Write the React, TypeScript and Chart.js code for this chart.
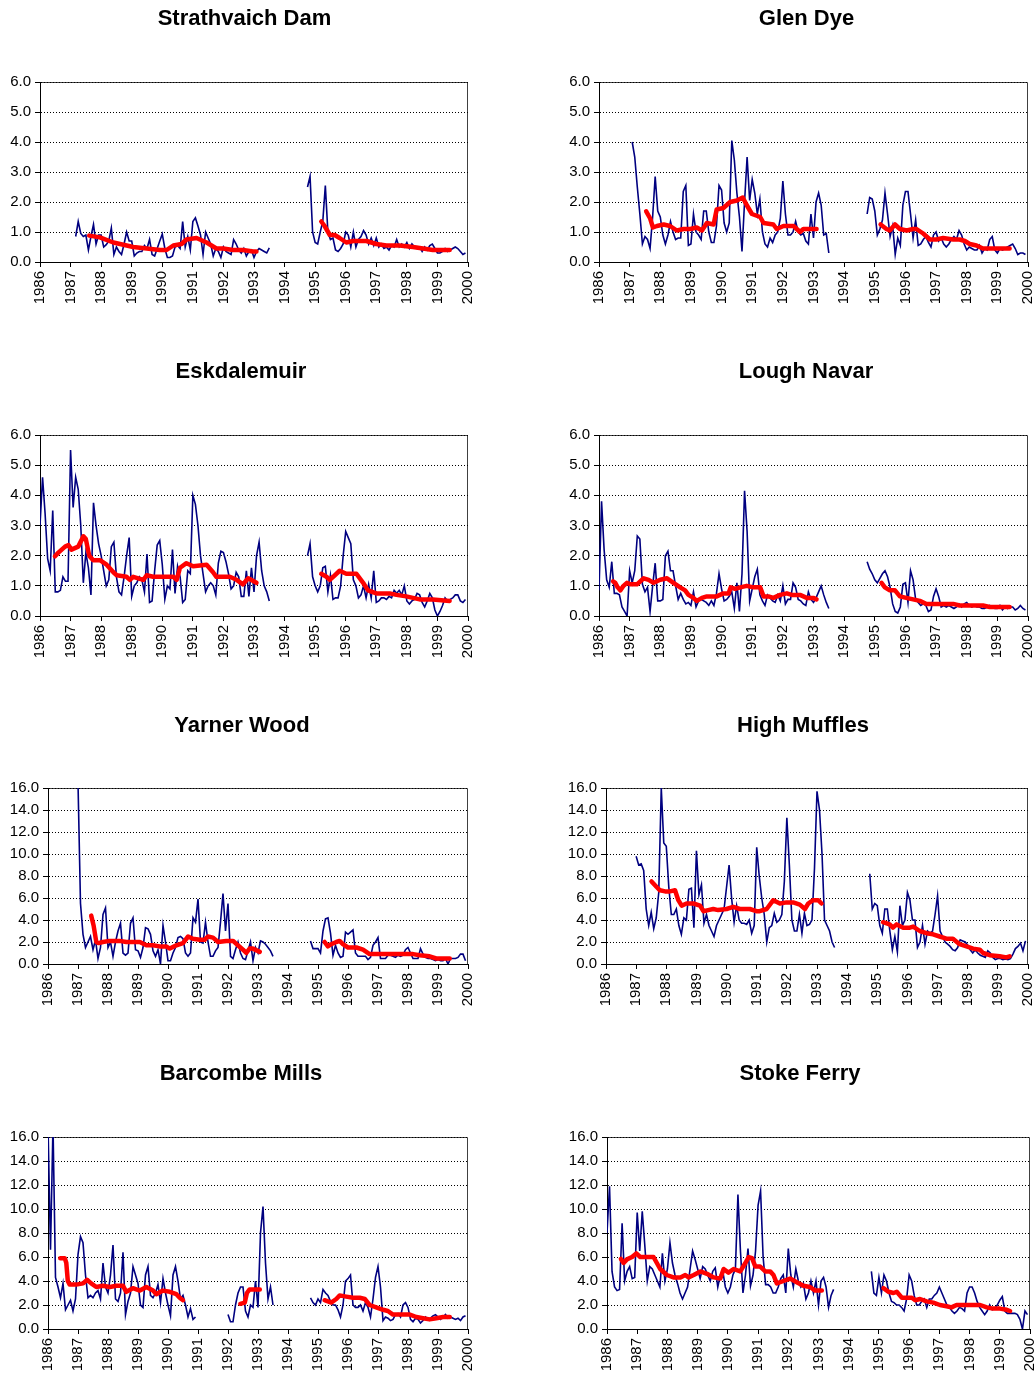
import React, { useEffect, useRef } from "react";
import { Chart, registerables } from "chart.js";

Chart.register(...registerables);

const FONT = "'Liberation Sans', Arial, Helvetica, sans-serif";
const N = null;
const FIRST_YEAR = 1986;
const LAST_YEAR = 2000;

const titles = ["Strathvaich Dam", "Glen Dye", "Eskdalemuir", "Lough Navar", "Yarner Wood", "High Muffles", "Barcombe Mills", "Stoke Ferry"];
const yMaxes = [6, 6, 6, 6, 16, 16, 16, 16];
const ySteps = [1, 1, 1, 1, 2, 2, 2, 2];

// Monthly values, Jan 1986 .. Dec 1999 (one row per year)
const strathvaichDam = [
  N,N,N,N,N,N,N,N,N,N,N,N,
  N,N,0.85,1.35,0.95,0.85,0.9,0.4,0.85,1.25,0.6,0.9,
  0.9,0.5,0.58,0.7,1.13,0.25,0.5,0.35,0.25,0.6,1.0,0.7,
  0.7,0.2,0.3,0.35,0.35,0.55,0.45,0.75,0.25,0.2,0.45,0.7,
  0.93,0.45,0.15,0.15,0.2,0.5,0.55,0.45,1.35,0.5,0.85,0.4,
  1.35,1.47,1.2,0.9,0.25,1.0,0.8,0.6,0.2,0.45,0.35,0.15,
  0.5,0.35,0.3,0.25,0.75,0.6,0.4,0.3,0.45,0.2,0.35,0.4,
  0.15,0.35,0.45,0.4,0.35,0.3,0.47,N,N,N,N,N,
  N,N,N,N,N,N,N,N,N,2.5,2.85,1.0,
  0.65,0.6,1.0,1.35,2.55,1.0,0.75,0.8,0.4,0.35,0.45,0.6,
  1.0,0.9,0.5,1.0,0.5,0.75,0.85,1.05,0.9,0.6,0.8,0.55,
  0.8,0.5,0.6,0.45,0.5,0.4,0.55,0.5,0.75,0.5,0.6,0.5,
  0.65,0.45,0.6,0.5,0.45,0.5,0.35,0.5,0.4,0.55,0.6,0.45,
  0.3,0.3,0.35,0.45,0.35,0.4,0.45,0.5,0.45,0.35,0.25,0.3,
];
const strathvaichTrend = [
  [1987.61,0.88],[1987.96,0.82],[1988.40,0.65],[1989.05,0.5],[1989.49,0.45],[1989.92,0.4],[1990.14,0.4],[1990.36,0.55],[1990.63,0.6],[1990.79,0.75],[1991.12,0.8],[1991.45,0.65],[1991.77,0.45],[1991.99,0.45],[1992.32,0.4],[1992.64,0.4],[1992.97,0.35],[1993.08,0.35],
  N,
  [1995.20,1.35],[1995.31,1.2],[1995.48,0.9],[1995.64,0.9],[1995.80,0.8],[1996.02,0.65],[1996.24,0.7],[1996.68,0.7],[1997.0,0.6],[1997.33,0.55],[1997.76,0.55],[1998.2,0.5],[1998.53,0.45],[1998.85,0.4],[1999.4,0.4],
];

const glenDye = [
  N,N,N,N,N,N,N,N,N,N,N,N,
  N,4.0,3.5,2.5,1.6,0.6,0.85,0.75,0.45,1.5,2.85,1.7,
  1.5,0.9,0.6,0.9,1.35,1.0,0.75,0.8,0.8,2.35,2.55,0.55,
  0.6,1.6,1.0,0.9,0.75,1.7,1.7,1.0,0.65,0.65,1.2,2.55,
  2.4,1.3,1.0,1.3,4.05,3.4,2.3,1.5,0.35,2.0,3.5,2.05,
  2.75,2.3,1.6,2.1,1.0,0.6,0.5,0.8,0.65,0.9,1.0,1.45,
  2.7,1.6,0.9,0.9,1.0,1.35,1.0,0.9,0.95,0.7,0.6,1.6,
  0.8,2.0,2.3,1.9,0.9,0.95,0.3,N,N,N,N,N,
  N,N,N,N,N,N,N,N,N,1.6,2.15,2.1,
  1.7,0.9,1.1,1.4,2.3,1.6,0.85,1.2,0.25,0.8,0.55,1.9,
  2.35,2.35,1.6,0.8,1.4,0.55,0.6,0.75,0.85,0.65,0.5,0.9,
  1.0,0.7,0.8,0.6,0.5,0.6,0.75,0.85,0.75,1.05,0.9,0.6,
  0.4,0.5,0.45,0.4,0.4,0.55,0.3,0.45,0.4,0.75,0.85,0.4,
  0.3,0.45,0.4,0.45,0.5,0.55,0.6,0.45,0.25,0.3,0.3,0.25,
];
const glenDyeTrend = [
  [1987.54,1.69],[1987.67,1.45],[1987.76,1.15],[1987.89,1.2],[1988.11,1.25],[1988.32,1.2],[1988.54,1.05],[1988.76,1.1],[1988.98,1.1],[1989.19,1.15],[1989.36,1.05],[1989.52,1.3],[1989.74,1.25],[1989.84,1.75],[1990.06,1.8],[1990.28,2.0],[1990.50,2.05],[1990.69,2.15],[1990.82,1.9],[1990.99,1.6],[1991.26,1.5],[1991.37,1.3],[1991.69,1.25],[1991.80,1.1],[1992.02,1.2],[1992.35,1.2],[1992.56,1.0],[1992.67,1.1],[1993.10,1.1],
  N,
  [1995.19,1.25],[1995.38,1.1],[1995.49,1.05],[1995.66,1.25],[1995.82,1.1],[1996.04,1.05],[1996.25,1.1],[1996.36,1.1],[1996.58,0.95],[1996.80,0.75],[1997.01,0.75],[1997.23,0.8],[1997.56,0.75],[1997.77,0.75],[1997.94,0.7],[1998.10,0.6],[1998.32,0.55],[1998.53,0.45],[1998.86,0.45],[1999.40,0.45],
];

const eskdalemuir = [
  3.0,4.6,3.4,1.9,1.5,3.5,0.8,0.8,0.85,1.3,1.15,1.15,
  5.5,3.6,4.6,4.2,3.0,1.1,2.1,1.6,0.7,3.75,3.0,2.4,
  2.0,1.5,1.0,1.2,2.3,2.45,1.3,0.8,0.7,1.3,2.0,2.6,
  0.65,1.0,1.1,1.3,1.2,0.8,2.05,0.45,0.5,1.5,2.35,2.5,
  1.7,0.55,1.0,0.9,2.2,0.75,1.65,1.3,0.45,0.55,1.5,1.4,
  4.0,3.7,3.0,2.0,1.4,0.8,1.0,1.1,1.0,0.7,1.75,2.15,
  2.1,1.8,1.4,0.9,1.0,1.45,1.3,0.65,0.65,1.5,0.65,1.6,
  0.8,2.0,2.45,1.5,1.0,0.8,0.5,N,N,N,N,N,
  N,N,N,N,N,N,N,N,N,2.0,2.4,1.3,
  1.0,0.8,1.0,1.6,1.65,0.8,1.35,0.55,0.6,0.6,1.0,2.0,
  2.8,2.6,2.4,1.2,1.0,0.6,0.7,1.0,0.6,1.05,0.6,1.5,
  0.45,0.5,0.6,0.6,0.55,0.65,0.6,0.85,0.75,0.85,0.7,1.0,
  0.5,0.4,0.5,0.55,0.75,0.7,0.45,0.3,0.5,0.75,0.6,0.2,
  0.0,0.15,0.35,0.6,0.5,0.55,0.6,0.7,0.7,0.5,0.45,0.55,
];
const eskdalemuirTrend = [
  [1986.49,1.98],[1986.60,2.1],[1986.82,2.3],[1986.93,2.35],[1987.03,2.2],[1987.25,2.3],[1987.42,2.64],[1987.50,2.55],[1987.61,2.0],[1987.74,1.85],[1987.96,1.85],[1988.18,1.7],[1988.40,1.45],[1988.51,1.35],[1988.83,1.3],[1988.94,1.2],[1989.05,1.3],[1989.38,1.2],[1989.49,1.35],[1989.70,1.3],[1989.92,1.3],[1990.36,1.3],[1990.47,1.2],[1990.58,1.6],[1990.79,1.75],[1991.01,1.65],[1991.45,1.7],[1991.66,1.45],[1991.77,1.3],[1992.21,1.3],[1992.43,1.2],[1992.64,1.05],[1992.81,1.25],[1993.08,1.1],
  N,
  [1995.20,1.4],[1995.37,1.3],[1995.48,1.2],[1995.59,1.3],[1995.80,1.5],[1996.02,1.4],[1996.35,1.4],[1996.57,1.1],[1996.73,0.85],[1997.0,0.75],[1997.44,0.75],[1997.66,0.7],[1997.98,0.65],[1998.20,0.6],[1998.42,0.55],[1998.85,0.55],[1999.40,0.5],
];

const loughNavar = [
  0.85,3.8,2.2,1.2,0.95,1.8,0.75,0.75,0.7,0.3,0.15,0.0,
  1.5,1.1,1.5,2.65,2.55,1.05,0.8,0.95,0.15,1.0,1.75,0.5,
  0.5,0.55,2.0,2.15,1.5,1.5,1.0,0.55,0.75,0.55,0.4,0.45,
  0.35,0.8,0.3,0.5,0.55,0.5,0.45,0.35,0.5,0.35,0.75,1.4,
  0.9,0.5,0.55,0.65,0.8,0.25,1.1,0.15,1.4,4.15,2.8,0.5,
  0.9,1.3,1.55,0.7,0.5,0.35,0.7,0.6,0.5,0.45,0.7,0.5,
  1.0,0.4,0.55,0.55,1.1,0.95,0.55,0.5,0.4,0.35,0.8,0.55,
  0.45,0.6,0.8,1.0,0.7,0.45,0.25,N,N,N,N,N,
  N,N,N,N,N,N,N,N,N,1.8,1.55,1.4,
  1.2,1.1,1.25,1.4,1.5,1.3,0.95,0.4,0.15,0.1,0.3,1.05,
  1.1,0.45,1.5,1.2,0.55,0.45,0.35,0.4,0.35,0.15,0.2,0.65,
  0.9,0.65,0.3,0.35,0.3,0.35,0.3,0.25,0.3,0.4,0.3,0.4,
  0.45,0.35,0.3,0.35,0.3,0.3,0.25,0.25,0.3,0.35,0.3,0.25,
  0.25,0.35,0.2,0.3,0.25,0.3,0.3,0.2,0.25,0.35,0.25,0.2,
];
const loughNavarTrend = [
  [1986.46,1.15],[1986.53,1.1],[1986.61,0.95],[1986.70,0.85],[1986.80,1.0],[1986.91,1.1],[1987.04,1.05],[1987.24,1.05],[1987.46,1.25],[1987.62,1.2],[1987.78,1.1],[1988.0,1.2],[1988.22,1.25],[1988.43,1.1],[1988.65,0.95],[1988.81,0.85],[1988.92,0.7],[1989.08,0.6],[1989.19,0.5],[1989.36,0.6],[1989.52,0.65],[1989.84,0.65],[1990.06,0.75],[1990.23,0.75],[1990.30,0.95],[1990.44,0.9],[1990.61,0.95],[1990.82,1.0],[1991.04,0.95],[1991.26,0.95],[1991.37,0.65],[1991.53,0.65],[1991.69,0.6],[1991.91,0.7],[1992.13,0.75],[1992.29,0.7],[1992.56,0.7],[1992.78,0.6],[1992.99,0.6],[1993.10,0.55],
  N,
  [1995.22,1.1],[1995.33,0.95],[1995.49,0.85],[1995.66,0.85],[1995.82,0.65],[1996.03,0.6],[1996.25,0.55],[1996.47,0.5],[1996.69,0.4],[1996.90,0.4],[1997.23,0.4],[1997.56,0.4],[1997.77,0.35],[1998.21,0.35],[1998.53,0.35],[1998.75,0.3],[1999.08,0.3],[1999.40,0.3],
];

const yarnerWood = [
  N,N,N,N,N,N,N,N,N,N,N,N,
  16.5,5.5,2.7,1.5,2.0,2.5,1.3,2.2,0.5,1.5,4.5,5.1,
  1.5,2.0,0.7,2.0,3.0,3.7,1.0,0.8,1.0,3.7,4.2,1.3,
  1.2,0.6,1.5,3.3,3.2,2.7,1.2,0.7,1.3,0.0,3.5,2.0,
  0.3,0.3,1.0,1.5,2.4,2.5,2.3,1.0,0.7,1.0,4.2,3.8,
  5.9,2.0,1.9,3.8,2.0,0.7,0.7,1.2,1.5,3.8,6.4,3.0,
  5.5,0.7,0.5,1.3,2.0,1.0,0.5,0.4,1.2,2.0,0.3,1.5,
  1.0,2.1,2.0,1.8,1.5,1.2,0.7,N,N,N,N,N,
  N,N,N,N,N,N,N,N,N,2.1,1.4,1.4,
  1.4,1.0,3.0,4.1,4.2,2.8,0.8,1.7,1.0,0.6,0.7,2.9,
  2.7,2.9,3.1,1.0,0.7,0.7,0.7,0.7,0.4,0.6,1.7,2.0,
  2.4,0.5,0.5,0.5,0.8,0.8,0.7,0.6,0.8,0.7,0.8,1.3,
  1.5,1.0,0.5,0.5,0.5,1.4,0.9,0.6,0.5,0.5,0.4,0.3,
  0.4,0.3,0.3,0.5,0.0,0.5,0.5,0.5,0.6,0.9,0.9,0.3,
];
const yarnerWoodTrend = [
  [1987.44,4.4],[1987.52,3.5],[1987.61,2.0],[1987.68,1.9],[1987.83,2.0],[1988.06,2.1],[1988.39,2.1],[1988.61,2.0],[1988.83,2.0],[1989.06,2.0],[1989.28,1.7],[1989.50,1.7],[1989.72,1.6],[1989.94,1.6],[1990.06,1.4],[1990.28,1.7],[1990.50,1.9],[1990.67,2.5],[1990.83,2.3],[1991.06,2.2],[1991.22,2.2],[1991.33,2.5],[1991.50,2.4],[1991.67,2.0],[1991.94,2.1],[1992.17,2.1],[1992.33,1.7],[1992.50,1.3],[1992.61,1.0],[1992.72,1.4],[1992.83,1.4],[1993.06,1.1],
  N,
  [1995.22,2.0],[1995.33,1.6],[1995.44,1.8],[1995.61,2.0],[1995.72,2.1],[1995.83,1.8],[1996.0,1.5],[1996.28,1.5],[1996.50,1.3],[1996.72,0.9],[1997.17,0.9],[1997.72,0.9],[1998.17,0.9],[1998.39,0.8],[1998.72,0.7],[1998.94,0.5],[1999.39,0.5],
];

const highMuffles = [
  N,N,N,N,N,N,N,N,N,N,N,N,
  9.8,9.0,9.1,8.5,5.0,3.5,4.7,3.2,4.2,6.5,16.0,11.0,
  10.7,7.0,4.5,4.5,5.0,3.5,2.7,4.2,4.0,6.8,6.9,3.3,
  10.3,6.3,7.2,3.7,4.5,3.5,3.0,2.5,3.5,4.0,4.5,5.0,
  7.0,9.0,6.0,3.8,5.3,4.0,3.7,3.7,3.6,4.0,2.8,3.5,
  10.6,8.0,6.0,4.5,2.0,3.3,3.5,4.6,3.8,4.0,4.5,7.5,
  13.3,9.0,4.0,3.0,3.0,4.5,2.8,4.6,3.5,3.6,4.0,8.7,
  15.7,14.0,10.0,4.0,3.5,3.0,2.0,1.5,N,N,N,N,
  N,N,N,N,N,N,N,N,N,8.2,5.0,5.5,
  5.3,3.5,2.8,5.0,5.0,3.0,1.3,2.5,1.1,5.3,3.5,4.0,
  6.5,5.8,4.0,4.0,1.5,2.0,3.5,1.8,3.0,2.8,3.0,4.5,
  6.2,3.0,2.5,2.0,1.8,1.6,1.3,1.2,1.5,2.2,2.1,2.0,
  1.7,1.3,1.0,1.3,1.0,0.8,0.7,0.6,1.2,1.0,0.6,0.4,
  0.5,0.5,0.4,0.45,0.4,0.5,0.9,1.4,1.6,1.9,1.2,2.1,
];
const highMufflesTrend = [
  [1987.51,7.5],[1987.68,7.0],[1987.79,6.7],[1987.96,6.6],[1988.12,6.6],[1988.29,6.7],[1988.40,5.8],[1988.51,5.3],[1988.67,5.5],[1988.90,5.5],[1989.12,5.3],[1989.23,4.8],[1989.39,4.9],[1989.56,5.0],[1989.72,4.9],[1990.0,5.0],[1990.22,5.2],[1990.44,5.0],[1990.77,5.0],[1990.99,4.8],[1991.10,4.8],[1991.33,5.0],[1991.55,5.8],[1991.77,5.5],[1991.99,5.6],[1992.21,5.6],[1992.43,5.4],[1992.60,5.0],[1992.71,5.5],[1992.87,5.8],[1993.04,5.8],[1993.15,5.5],
  N,
  [1995.19,3.8],[1995.41,3.6],[1995.52,3.3],[1995.64,3.6],[1995.86,3.3],[1996.08,3.3],[1996.19,3.4],[1996.41,3.0],[1996.63,2.8],[1996.85,2.7],[1997.07,2.5],[1997.29,2.3],[1997.51,2.3],[1997.73,1.8],[1997.96,1.6],[1998.18,1.4],[1998.40,1.3],[1998.51,1.0],[1998.73,0.8],[1999.06,0.7],[1999.28,0.6],[1999.39,0.7],
];

const barcombeMills = [
  17,6.6,17,4.3,3.5,2.6,3.8,1.6,2.0,2.4,1.5,2.5,
  6.2,7.7,7.2,4.5,2.6,2.8,2.6,3.0,3.2,2.5,5.5,3.5,
  3.0,4.5,7.0,2.5,2.3,3.0,6.4,1.2,2.3,3.0,5.2,4.5,
  3.8,2.0,1.8,4.5,5.2,2.8,2.6,3.0,3.7,2.2,4.2,3.0,
  2.0,1.1,4.5,5.2,4.0,2.5,2.8,2.0,1.0,1.7,0.8,1.0,
  N,N,N,N,N,N,N,N,N,N,N,N,
  1.2,0.6,0.6,2.0,3.0,3.5,3.5,1.5,1.0,2.0,1.8,4.0,
  1.8,8.0,10.2,5.5,2.5,3.5,2.0,N,N,N,N,N,
  N,N,N,N,N,N,N,N,N,2.6,2.2,2.0,
  2.5,2.2,3.3,3.0,2.8,2.3,2.0,2.0,1.6,1.0,2.0,4.0,
  4.2,4.5,2.0,1.8,1.8,2.0,1.5,2.2,1.8,1.0,2.5,4.3,
  5.2,3.5,0.7,1.0,0.9,0.7,0.8,1.2,1.3,1.0,2.0,2.2,
  1.8,0.8,0.6,0.9,0.8,0.5,0.7,1.0,0.8,0.9,1.1,1.2,
  1.0,0.8,1.0,1.2,0.9,1.0,0.9,0.8,0.9,0.7,1.0,1.1,
];
const barcombeMillsTrend = [
  [1986.41,5.9],[1986.56,5.9],[1986.61,5.5],[1986.66,4.0],[1986.72,3.7],[1986.94,3.7],[1987.17,3.8],[1987.30,4.1],[1987.44,3.8],[1987.61,3.5],[1987.83,3.6],[1988.06,3.5],[1988.28,3.6],[1988.50,3.6],[1988.61,3.1],[1988.83,3.4],[1989.06,3.2],[1989.28,3.5],[1989.50,3.2],[1989.61,2.9],[1989.83,3.2],[1990.06,3.1],[1990.28,2.9],[1990.39,2.6],[1990.50,2.4],
  N,
  [1992.41,2.1],[1992.56,2.2],[1992.63,3.0],[1992.72,3.3],[1993.06,3.3],
  N,
  [1995.22,2.4],[1995.33,2.3],[1995.44,2.2],[1995.61,2.5],[1995.72,2.8],[1995.94,2.7],[1996.17,2.6],[1996.39,2.6],[1996.56,2.5],[1996.72,2.0],[1996.94,1.8],[1997.17,1.6],[1997.33,1.5],[1997.50,1.2],[1997.72,1.2],[1998.06,1.2],[1998.28,1.0],[1998.50,0.9],[1998.72,0.8],[1998.94,0.9],[1999.17,1.0],[1999.39,1.0],
];

const stokeFerry = [
  8.0,11.9,4.8,3.5,3.2,3.3,8.8,4.0,4.8,5.2,4.2,4.3,
  9.7,6.5,9.8,7.0,4.0,5.2,5.0,4.5,4.0,3.5,6.3,4.0,
  5.0,7.2,5.5,4.5,3.8,3.0,2.5,3.0,3.5,5.0,6.5,5.8,
  5.0,4.2,5.2,5.0,4.5,4.0,4.8,5.1,3.5,4.5,4.8,3.5,
  3.0,3.5,4.5,5.0,11.2,6.5,3.0,4.5,6.7,3.6,4.5,6.5,
  10.3,11.5,6.0,3.7,3.7,3.5,3.0,3.0,3.5,4.2,4.5,3.0,
  6.7,4.5,3.5,5.0,4.0,3.5,3.8,2.5,3.0,4.0,3.0,4.0,
  2.0,4.0,4.3,3.5,1.8,2.8,3.3,N,N,N,N,N,
  N,N,N,N,N,N,N,N,N,4.8,3.0,2.8,
  4.3,3.0,4.5,4.0,3.0,2.3,2.2,2.0,2.0,1.8,1.5,2.5,
  4.5,4.0,2.8,2.0,2.0,2.3,2.5,1.8,2.5,2.5,2.8,3.0,
  3.5,3.0,2.5,2.0,1.8,1.5,1.3,1.5,1.8,1.7,1.5,3.0,
  3.5,3.5,3.0,2.3,1.8,1.5,1.2,1.5,2.0,1.6,1.7,2.0,
  2.4,2.7,1.5,1.3,1.3,1.3,1.3,1.2,0.8,0.0,1.5,1.2,
];
const stokeFerryTrend = [
  [1986.46,5.84],[1986.55,5.5],[1986.66,5.8],[1986.83,6.0],[1986.97,6.3],[1987.10,6.0],[1987.32,6.0],[1987.54,6.0],[1987.65,5.5],[1987.76,5.0],[1987.98,4.5],[1988.20,4.3],[1988.43,4.3],[1988.59,4.5],[1988.70,4.3],[1988.87,4.5],[1989.09,4.8],[1989.31,4.6],[1989.53,4.3],[1989.75,4.2],[1989.86,5.0],[1990.02,4.7],[1990.19,5.0],[1990.41,4.8],[1990.58,5.5],[1990.69,6.0],[1990.80,5.9],[1990.91,5.2],[1991.07,5.2],[1991.24,4.8],[1991.40,4.8],[1991.51,4.5],[1991.62,3.8],[1991.84,4.0],[1992.06,4.2],[1992.28,3.9],[1992.50,3.6],[1992.72,3.5],[1992.89,3.2],[1993.11,3.2],
  N,
  [1995.15,3.4],[1995.32,3.1],[1995.48,3.0],[1995.59,3.1],[1995.76,2.6],[1995.92,2.6],[1996.09,2.6],[1996.20,2.4],[1996.36,2.5],[1996.58,2.3],[1996.80,2.2],[1997.02,2.0],[1997.24,1.9],[1997.40,1.8],[1997.57,2.0],[1997.80,2.0],[1998.02,2.0],[1998.35,2.0],[1998.57,1.8],[1998.77,1.7],[1999.01,1.7],[1999.23,1.6],[1999.34,1.5],
];

const monthlySeries = [strathvaichDam, glenDye, eskdalemuir, loughNavar, yarnerWood, highMuffles, barcombeMills, stokeFerry];
const trendSeries = [strathvaichTrend, glenDyeTrend, eskdalemuirTrend, loughNavarTrend, yarnerWoodTrend, highMufflesTrend, barcombeMillsTrend, stokeFerryTrend];

// Layout (page pixels): plot-area box, title centre, canvas left
const LAYOUT = [
  { L: 40, R: 468, T: 82, B: 262, cx: 244.5, cy: 18.5, left: 0 },
  { L: 599, R: 1028, T: 82, B: 262, cx: 806.5, cy: 18.5, left: 560 },
  { L: 40, R: 468, T: 435, B: 616, cx: 241, cy: 371.5, left: 0 },
  { L: 599, R: 1028, T: 435, B: 616, cx: 806, cy: 371.5, left: 560 },
  { L: 48, R: 468, T: 788, B: 964, cx: 242, cy: 725.5, left: 0 },
  { L: 606, R: 1028, T: 788, B: 964, cx: 803, cy: 725.5, left: 560 },
  { L: 48, R: 468, T: 1137, B: 1329, cx: 241, cy: 1073.5, left: 0 },
  { L: 607, R: 1030, T: 1137, B: 1329, cx: 800, cy: 1073.5, left: 560 },
];

const X_AXIS_H = 48;
const PAD_RIGHT = 30;
const TITLE_SIZE = 22;

const framePlugin = {
  id: "plotFrame",
  beforeDraw(chart: any) {
    const { ctx, chartArea: a } = chart;
    ctx.save();
    ctx.strokeStyle = "#404040";
    ctx.lineWidth = 1;
    ctx.beginPath();
    const l = Math.round(a.left) + 0.5;
    const t = Math.round(a.top) + 0.5;
    const r = Math.round(a.right) - 0.5;
    const b = Math.round(a.bottom) + 0.5;
    ctx.moveTo(l, t);
    ctx.lineTo(r, t);
    ctx.lineTo(r, b);
    ctx.stroke();
    ctx.restore();
  },
};

// Panel title drawn centred over the whole chart object (axis labels included)
const panelTitlePlugin = {
  id: "panelTitle",
  afterDraw(chart: any, _args: any, opts: any) {
    const { ctx } = chart;
    ctx.save();
    ctx.fillStyle = "#000";
    ctx.font = `bold ${TITLE_SIZE}px ${FONT}`;
    ctx.textAlign = "center";
    ctx.textBaseline = "middle";
    ctx.fillText(opts.text, opts.x, opts.y);
    ctx.restore();
  },
};

function Panel({ idx }: { idx: number }) {
  const ref = useRef<HTMLCanvasElement | null>(null);
  const lay = LAYOUT[idx];
  const canvasTop = Math.round(lay.cy - 20);
  const width = lay.R - lay.left + PAD_RIGHT;
  const height = lay.B - canvasTop + X_AXIS_H;
  const yAxisW = lay.L - lay.left;

  useEffect(() => {
    const canvas = ref.current;
    if (!canvas) return;
    const monthly = monthlySeries[idx];
    const trend = trendSeries[idx] as any[];
    const blue = monthly.map((v, i) => ({ x: FIRST_YEAR + i / 12, y: v }));
    const red = trend.map((p, i) =>
      p ? { x: p[0], y: p[1] } : { x: (trend[i - 1] as number[])[0] + 0.01, y: null }
    );
    const chart = new Chart(canvas, {
      type: "line",
      data: {
        datasets: [
          {
            data: red as any,
            borderColor: "#FF0000",
            borderWidth: 4.5,
            pointRadius: 0,
            borderJoinStyle: "round",
            borderCapStyle: "round",
            spanGaps: false,
            tension: 0,
          },
          {
            data: blue as any,
            borderColor: "#000080",
            borderWidth: 1.6,
            pointRadius: 0,
            spanGaps: false,
            tension: 0,
          },
        ],
      },
      options: {
        responsive: false,
        animation: false,
        events: [],
        layout: { padding: { left: 0, right: PAD_RIGHT, top: lay.T - canvasTop, bottom: 0 } },
        plugins: {
          legend: { display: false },
          tooltip: { enabled: false },
          title: { display: false },
          panelTitle: { text: titles[idx], x: lay.cx - lay.left, y: lay.cy - canvasTop },
        },
        scales: {
          x: {
            type: "linear",
            min: FIRST_YEAR,
            max: LAST_YEAR,
            afterFit: (s: any) => { s.height = X_AXIS_H; },
            grid: { display: true, drawOnChartArea: false, drawTicks: true, tickLength: 5, color: "#000" },
            border: { display: true, color: "#000", width: 1 },
            ticks: {
              stepSize: 1,
              maxTicksLimit: 30,
              autoSkip: false,
              minRotation: 90,
              maxRotation: 90,
              padding: 4,
              color: "#000",
              font: { family: FONT, size: 15 },
              callback: (v: any) => String(v),
            },
          },
          y: {
            type: "linear",
            min: 0,
            max: yMaxes[idx],
            afterFit: (s: any) => { s.width = yAxisW; },
            grid: { display: true, drawOnChartArea: true, drawTicks: true, tickLength: 5, color: "#000", lineWidth: 1, tickColor: "#000" },
            border: { display: true, color: "#000", width: 1, dash: [1, 2] },
            ticks: {
              stepSize: ySteps[idx],
              padding: 4,
              color: "#000",
              font: { family: FONT, size: 15 },
              callback: (v: any) => Number(v).toFixed(1),
            },
          },
        },
      },
      plugins: [framePlugin, panelTitlePlugin],
    } as any);
    return () => chart.destroy();
  }, [idx]);

  return (
    <canvas
      ref={ref}
      width={width}
      height={height}
      style={{ position: "absolute", left: lay.left, top: canvasTop, width, height }}
    />
  );
}

export default function App() {
  return (
    <div style={{ position: "absolute", left: 0, top: 0, width: 1034, height: 1374, overflow: "hidden", background: "#fff" }}>
      {titles.map((_, i) => (
        <Panel key={i} idx={i} />
      ))}
    </div>
  );
}
